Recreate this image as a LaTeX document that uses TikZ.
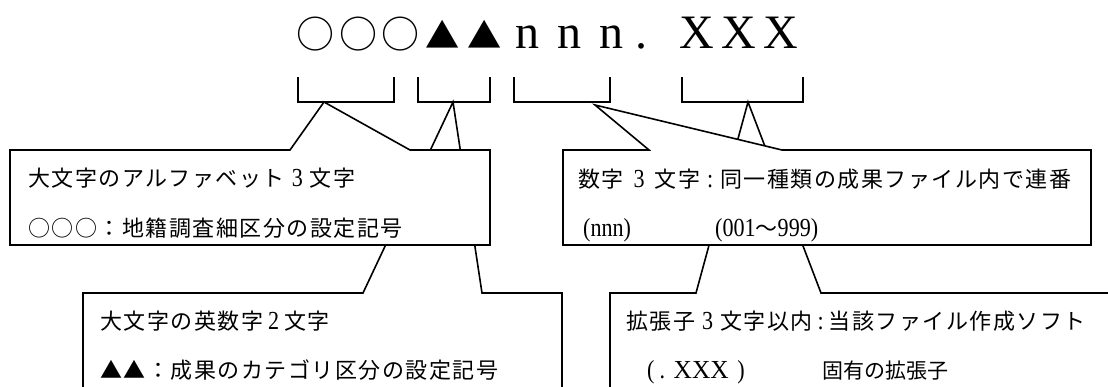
\documentclass[tikz,border=0pt]{standalone}
\usepackage{graphicx}
\usepackage{fontspec}
\setmainfont{Liberation Serif}
\newfontfamily\jpfont{Noto Sans CJK JP}
\newfontfamily\jpls{Noto Sans CJK JP}[LetterSpace=6.8]
\newfontfamily\latfont{Liberation Serif}
\newcommand{\lat}[1]{{\latfont\fontsize{26pt}{28pt}\selectfont\scalebox{0.85}[1]{#1}}}
\newcommand{\tcell}[1]{\makebox[42.3pt]{#1}}
\newcommand{\tcl}[1]{\makebox[42.3pt][l]{#1}}
\newcommand{\hd}[2][4pt]{\hspace{#1}\lat{#2}\hspace{#1}}
\newcommand{\mycolon}[1][3pt]{\hspace{#1}\lat{:}\hspace{#1}}
\tikzset{
  callout/.style={draw, line width=1.6pt, fill=white},
  brk/.style={draw, line width=1.6pt},
  row/.style={anchor=base west, inner sep=0pt, font=\jpls\fontsize{22pt}{26pt}\selectfont},
}
\begin{document}
\begin{tikzpicture}[x=1pt,y=-1pt]
\useasboundingbox (0,0) rectangle (1108,386);
% title
\node[anchor=base west, inner sep=0pt] (title) at (294.5,48)
 {\fontsize{38pt}{40pt}\jpfont\selectfont
  \tcell{○}\tcell{○}\tcell{○}%
  \tcell{\scalebox{0.9}{▲}}\tcell{\scalebox{0.9}{▲}}%
  {\latfont\fontsize{48pt}{50pt}\selectfont\tcell{n}\tcell{n}\tcell{n}\tcl{\hspace{2pt}.}\tcell{X}\tcell{X}\tcell{X}}};
% brackets
\path[brk] (298,77) -- (298,102) -- (394,102) -- (394,77);
\path[brk] (418,77) -- (418,102) -- (490,102) -- (490,77);
\path[brk] (514,77) -- (514,102) -- (610,102) -- (610,77);
\path[brk] (682,77) -- (682,102) -- (803,102) -- (803,77);
% lower callouts first
\path[callout] (83,293) -- (363,293) -- (453,102) -- (482,293) -- (562,293) -- (562,400) -- (83,400) -- cycle;
\path[callout] (610,293) -- (696,293) -- (748,102) -- (821,293) -- (1120,293) -- (1120,400) -- (610,400) -- cycle;
% upper callouts
\path[callout] (10,150) -- (290,150) -- (324,102) -- (410,150) -- (490,150) -- (490,245) -- (10,245) -- cycle;
\path[callout] (563,150) -- (649,150) -- (595,105) -- (782,150) -- (1091,150) -- (1091,245) -- (563,245) -- cycle;
% texts box 1
\node[row] (a1) at (28,186) {大文字のアルファベット\hd[7pt]{3}文字};
\node[row] (a2) at (28,236) {○○○：地籍調査細区分の設定記号};
% box 3
\node[row] (c1) at (578,187) {数字\hd[10pt]{3}文字\mycolon[7pt]同一種類の成果ファイル内で連番};
\node[row] (c2) at (583,236.5) {\lat{(nnn)}};
\node[row] (c3) at (715,236.5) {\lat{(001}{\jpfont ～}\lat{999)}};
% box 2
\node[row] (b1) at (100,329) {大文字の英数字\hd[5pt]{2}文字};
\node[row] (b2) at (100,378) {▲▲：成果のカテゴリ区分の設定記号};
% box 4
\node[row] (d1) at (626,329) {拡張子\hd[7pt]{3}文字以内\mycolon[5pt]当該ファイル作成ソフト};
\node[row] (d2) at (647,378) {\lat{(\hspace{6pt}.\hspace{10pt}\scalebox{1.15}[1]{XXX}\hspace{10pt})}};
\node[row, font=\jpfont\fontsize{21pt}{24pt}\selectfont] (d3) at (822,378) {固有の拡張子};
\end{tikzpicture}
\end{document}
